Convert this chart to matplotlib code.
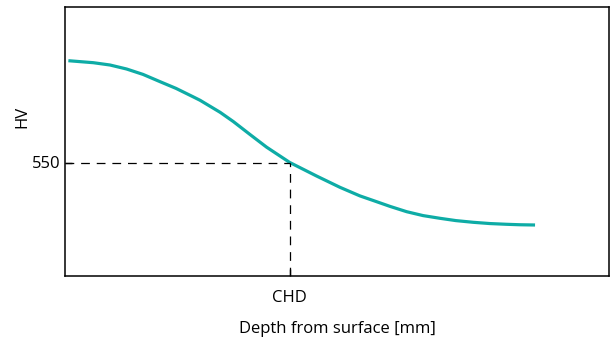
import matplotlib
matplotlib.use('Agg')
import matplotlib.pyplot as plt

# depth from surface (mm) and hardness (HV)
depth = [0.015, 0.126, 0.200, 0.274, 0.347, 0.423, 0.494, 0.569, 0.601,
         0.690, 0.749, 0.823, 0.897, 1.0, 1.119, 1.223, 1.312, 1.371,
         1.446, 1.520, 1.593, 1.668, 1.739, 1.816, 1.890, 1.965, 2.024, 2.091]
hardness = [753.6, 749.6, 745.0, 737.0, 726.2, 711.6, 698.2, 681.6, 674.4,
            650.4, 631.8, 606.0, 580.6, 550, 523, 500.4, 483.2, 474,
            462.2, 451.6, 443.8, 438.4, 433.8, 430.4, 427.9, 426.4, 425.5, 425]
chd = 1.0
hv_limit = 550

plt.rcParams['font.family'] = ['Open Sans', 'DejaVu Sans']

fig = plt.figure(figsize=(6.11, 3.4), dpi=100)
ax = fig.add_axes([65 / 611, 64 / 340, 544 / 611, 269 / 340])

ax.plot(depth, hardness, color='#0eaca6', lw=2.3, solid_capstyle='butt',
        solid_joinstyle='round')
ax.plot([0, chd], [hv_limit, hv_limit], color='black', lw=0.9, linestyle=(0, (7, 5.5)))
ax.plot([chd, chd], [323, hv_limit], color='black', lw=0.9, linestyle=(0, (7, 5.5)))

ax.set_xlim(0, 2.42)
ax.set_ylim(323, 861)
ax.set_xticks([chd])
ax.set_xticklabels(['CHD'])
ax.set_yticks([hv_limit])
ax.set_yticklabels(['550'])
ax.tick_params(direction='in', length=5, width=1, labelsize=12)
ax.tick_params(axis='x', pad=10)
ax.tick_params(axis='y', pad=3)
ax.set_xlabel('Depth from surface [mm]', fontsize=12, labelpad=11)
ax.set_ylabel('HV', fontsize=12)
ax.yaxis.set_label_coords(-0.064, 0.59)
for s in ax.spines.values():
    s.set_linewidth(1.1)

plt.savefig('out.png', dpi=100)
